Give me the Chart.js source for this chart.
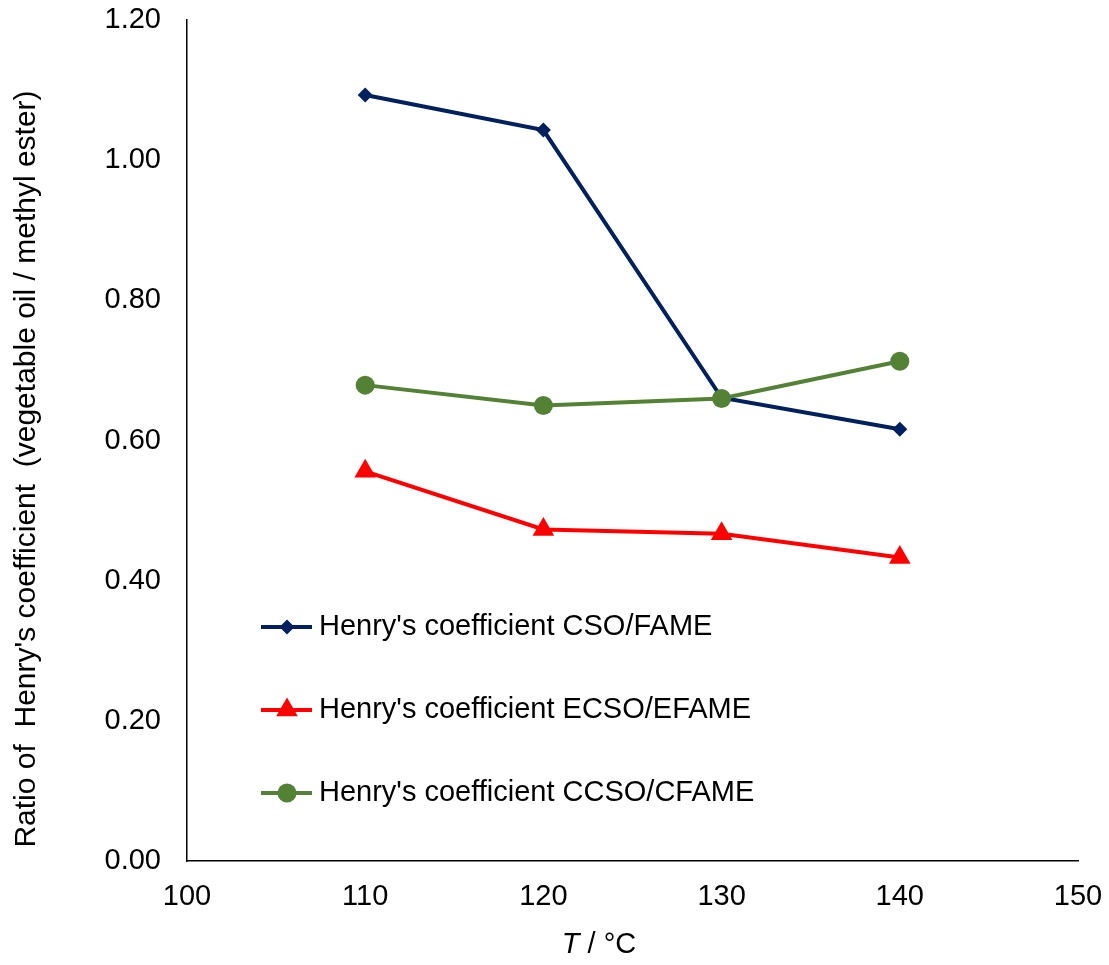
<!DOCTYPE html>
<html lang="en">
<head>
    <meta charset="UTF-8">
    <title>Henry's coefficient ratio</title>
    <script src="https://cdn.jsdelivr.net/npm/chart.js@4.4.2/dist/chart.umd.min.js"></script>
    <style>
        body {
          background-color: #fff;
          margin: 0;
          padding: 0;}
        #wrap {
          width: 1109px;
          height: 965px;}
    </style>
</head>
<body>
    <div id="wrap"><canvas id="myChart" width="1109" height="965"></canvas></div>
<script>
// Temperatures (x) and ratio values
const temps = [110, 120, 130, 140];
const csoFame = [1.093, 1.043, 0.661, 0.616];
const ecsoEfame = [0.556, 0.473, 0.467, 0.433];
const ccsoCfame = [0.679, 0.650, 0.660, 0.713];
const seriesNames = ["Henry's coefficient CSO/FAME", "Henry's coefficient ECSO/EFAME", "Henry's coefficient CCSO/CFAME"];
const xTicks = [100, 110, 120, 130, 140, 150];
const yTicks = [0, 0.2, 0.4, 0.6, 0.8, 1.0, 1.2];

const FONT = "'Liberation Sans', Arial, sans-serif";
const FS = 29;

function pts(values) {
    return temps.map((t, i) => ({x: t, y: values[i]}));}

// Legend inside the plot, lower left, plus axis titles (italic T)
const textPlugin = {
    id: 'textPlugin',
    afterDraw(chart) {
        const ctx = chart.ctx;
        ctx.save();
        ctx.fillStyle = '#000';
        ctx.font = '30px ' + FONT;
        // y title
        ctx.save();
        ctx.translate(27, 469);
        ctx.rotate(-Math.PI / 2);
        ctx.textAlign = 'center';
        ctx.textBaseline = 'middle';
        ctx.fillText("Ratio of  Henry's coefficient  (vegetable oil / methyl ester)", 0, 0);
        ctx.restore();
        // x title
        ctx.textBaseline = 'middle';
        ctx.textAlign = 'left';
        ctx.font = 'italic ' + FS + 'px ' + FONT;
        const tW = ctx.measureText('T').width;
        ctx.font = FS + 'px ' + FONT;
        const rest = ' / °C';
        const rW = ctx.measureText(rest).width;
        const x0 = 599 - (tW + rW) / 2;
        ctx.font = 'italic ' + FS + 'px ' + FONT;
        ctx.fillText('T', x0, 945);
        ctx.font = FS + 'px ' + FONT;
        ctx.fillText(rest, x0 + tW, 945);
        // legend
        const rows = [627, 710, 793];
        chart.data.datasets.forEach((ds, i) => {
            const y = rows[i];
            ctx.strokeStyle = ds.borderColor;
            ctx.lineWidth = ds.borderWidth;
            ctx.beginPath();
            ctx.moveTo(261, y);
            ctx.lineTo(312, y);
            ctx.stroke();
            ctx.fillStyle = ds.pointBackgroundColor;
            Chart.helpers.drawPoint(ctx, {pointStyle: ds.pointStyle, radius: ds.pointRadius, rotation: 0, borderWidth: 0}, 287, y);
            ctx.fillStyle = '#000';
            ctx.font = FS + 'px ' + FONT;
            ctx.textAlign = 'left';
            ctx.fillText(ds.label, 319, y);});
        ctx.restore();}};

const ctx = document.getElementById('myChart').getContext('2d');
const myChart = new Chart(ctx, {
    type: 'line',
    data: {
        datasets: [
            {label: seriesNames[0], data: pts(csoFame), borderColor: '#002060', pointBackgroundColor: '#002060',
             pointBorderColor: '#002060', borderWidth: 4, pointStyle: 'rectRot', pointRadius: 7.5, pointBorderWidth: 0, order: 3},
            {label: seriesNames[1], data: pts(ecsoEfame), borderColor: '#FF0000', pointBackgroundColor: '#FF0000',
             pointBorderColor: '#FF0000', borderWidth: 4, pointStyle: 'triangle', pointRadius: 12.5, pointBorderWidth: 0, order: 2},
            {label: seriesNames[2], data: pts(ccsoCfame), borderColor: '#548235', pointBackgroundColor: '#548235',
             pointBorderColor: '#548235', borderWidth: 4, pointStyle: 'circle', pointRadius: 9.5, pointBorderWidth: 0, order: 1}]},
    options: {
        responsive: false,
        animation: false,
        layout: {padding: {left: 0, right: 31, top: 20, bottom: 0}},
        scales: {
            x: {
                type: 'linear',
                min: xTicks[0],
                max: xTicks[xTicks.length - 1],
                afterBuildTicks: (axis) => { axis.ticks = xTicks.map(v => ({value: v})); },
                afterFit: (axis) => { axis.height = 104; axis.paddingLeft = 0; axis.paddingRight = 0; },
                grid: {display: false, drawTicks: false},
                border: {display: true, color: '#000', width: 1.5},
                ticks: {padding: 19, color: '#000', font: {family: FONT, size: FS}}},
            y: {
                min: yTicks[0],
                max: yTicks[yTicks.length - 1],
                afterBuildTicks: (axis) => { axis.ticks = yTicks.map(v => ({value: v})); },
                afterFit: (axis) => { axis.width = 187; axis.paddingTop = 0; axis.paddingBottom = 0; },
                grid: {display: false, drawTicks: false},
                border: {display: true, color: '#000', width: 1.5},
                ticks: {padding: 26, color: '#000', font: {family: FONT, size: FS},
                    callback: (v) => Number(v).toFixed(2)}}},
        plugins: {
            legend: {display: false},
            tooltip: {enabled: false}}},
    plugins: [textPlugin]});
</script>
</body>
</html>
